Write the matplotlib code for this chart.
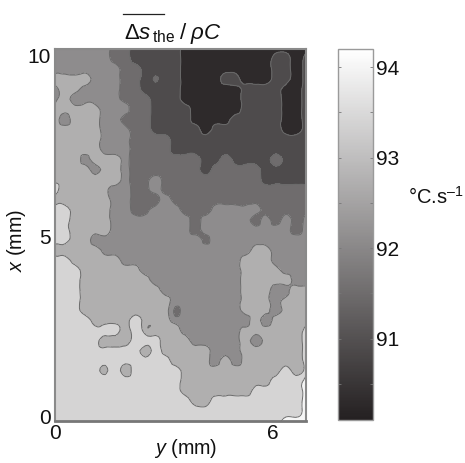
import numpy as np
import matplotlib
matplotlib.use("Agg")
import matplotlib.pyplot as plt
import matplotlib.tri as mtri
from matplotlib.colors import LinearSegmentedColormap, Normalize
from matplotlib.cm import ScalarMappable
from matplotlib.lines import Line2D
from matplotlib.transforms import ScaledTranslation

plt.rcParams['font.family'] = ['Liberation Sans', 'DejaVu Sans']
plt.rcParams['mathtext.fontset'] = 'custom'
plt.rcParams['mathtext.rm'] = 'Liberation Sans'
plt.rcParams['mathtext.it'] = 'Liberation Sans:italic'
plt.rcParams['mathtext.bf'] = 'Liberation Sans:bold'

# Band codes, top row first, left to right
band_rows = [
    "33333322111110000000000000",
    "33333322111110000000001101",
    "33333332211110000000001101",
    "44443332211110000110001101",
    "34433332211110000001111001",
    "34333332221110000001111001",
    "44444333221111000001111001",
    "43444332221111000011111001",
    "44444333221111101111111001",
    "44444333222211111111111111",
    "44444333222211111111111111",
    "44434443222222211211112111",
    "44443443222222212222211111",
    "44444443223222222222211111",
    "54444433223222222222222222",
    "44444433222322222222222222",
    "55444433223332223333322222",
    "55444433333333233333232323",
    "55444433333333233333333323",
    "55443333333333333333333333",
    "44444333333333333333443333",
    "55444443333333333334443333",
    "55544444433333333334444333",
    "55544444443333333334444433",
    "55544444444333333334443344",
    "55544444444433333334443444",
    "55544444444433333334443444",
    "55554444544433333333434444",
    "55555554544443333334444445",
    "55555444555444333334344445",
    "55555555545444443334444445",
    "55555555555544443434444445",
    "55555554555554444444444545",
    "55555555555554444444445556",
    "55555555555554444444555556",
    "55555555555555445555555556",
    "55555555555555555555555556",
    "55555555555555555555555666",
]
# Small isolated specks: row, column, fractional band
specks = [(3, 10, 1.6), (14, 5, 3.7), (19, 15, 2.3), (21, 20, 3.7),
          (26, 12, 2.3), (32, 5, 4.3), (11, 3, 3.2), (12, 4, 3.2)]
band_values = [90.3, 90.9, 91.5, 92.1, 92.7, 93.4, 94.1]
contour_levels = [90.0, 90.6, 91.2, 91.8, 92.4, 93.05, 93.75, 94.3]
x_ticks = [0, 6]
y_ticks = [0, 5, 10]
cbar_ticks = [91, 92, 93, 94]
cbar_minor = [90.5, 91.5, 92.5, 93.5]

W, H = 465, 463
fig = plt.figure(figsize=(W / 100, H / 100), dpi=100)
def box(x0, y0, x1, y1):
    return [x0 / W, 1 - y1 / H, (x1 - x0) / W, (y1 - y0) / H]

ax = fig.add_axes(box(55, 49, 306, 421))
bands = np.array([[float(c) for c in r] for r in band_rows])
for r, c, v in specks:
    bands[r, c] = v
Z = np.interp(bands, np.arange(len(band_values)), band_values)[::-1]
xlim = (0, 6.93)
ylim = (0, 10.28)
X, Y = np.meshgrid(np.linspace(*xlim, Z.shape[1]), np.linspace(*ylim, Z.shape[0]))

cmap = LinearSegmentedColormap.from_list('g', ['#242021', '#ffffff'])
norm = Normalize(90.1, 94.2)
tri = mtri.Triangulation(X.ravel(), Y.ravel())
refiner = mtri.UniformTriRefiner(tri)
tri_f, z_f = refiner.refine_field(Z.ravel(), subdiv=2)
ax.tricontourf(tri_f, z_f, levels=contour_levels, cmap=cmap, norm=norm, extend='both')
ax.tricontour(tri_f, z_f, levels=contour_levels[1:-1], colors='#6a6a6a', linewidths=0.7)
ax.set_xlim(*xlim)
ax.set_ylim(*ylim)
ax.set_xticks(x_ticks)
ax.set_yticks(y_ticks)
ax.tick_params(length=0, labelsize=15, colors='#111111')
ax.tick_params(axis='x', pad=2)
ax.tick_params(axis='y', pad=2)
shift = ScaledTranslation(-1 / 100, 4 / 100, fig.dpi_scale_trans)
for lab in ax.get_yticklabels():
    lab.set_transform(lab.get_transform() + shift)
for s in ax.spines.values():
    s.set_color('#8a8a8a')
    s.set_linewidth(1.5)
ax.spines['bottom'].set_color('#777777')
ax.spines['bottom'].set_linewidth(2)

cax = fig.add_axes(box(338, 49, 373, 420))
cb = fig.colorbar(ScalarMappable(norm=norm, cmap=cmap), cax=cax, ticks=cbar_ticks)
cb.outline.set_edgecolor('#9a9a9a')
cb.outline.set_linewidth(1)
cax.set_yticks(cbar_minor, minor=True)
cax.tick_params(axis='y', which='both', direction='in', length=2.5, width=0.6,
                color='#777777', left=True, right=True)
cax.tick_params(axis='y', which='major', labelsize=15, pad=2, labelcolor='#111111')

fig.text(186 / W, 1 - 448 / H, r'$\mathit{y}$ (mm)', fontsize=14.2, ha='center', va='center', color='#111111')
fig.text(17 / W, 1 - 240 / H, r'$\mathit{x}$ (mm)', fontsize=14.2, rotation=90, ha='center', va='center', color='#111111')
fig.text(173 / W, 1 - 33 / H, r'$\mathrm{\Delta}\mathit{s}_{\,\mathrm{the}}\;/\;\mathit{\rho C}$',
         fontsize=16, ha='center', va='center', color='#111111')
fig.add_artist(Line2D([123 / W, 164 / W], [1 - 13.5 / H, 1 - 13.5 / H], color='#222222', lw=0.9))
fig.text(436 / W, 1 - 197 / H, '°C.s$^{\\mathrm{–1}}$', fontsize=14.5, ha='center', va='center', color='#111111')

fig.savefig('out.png', dpi=100)
